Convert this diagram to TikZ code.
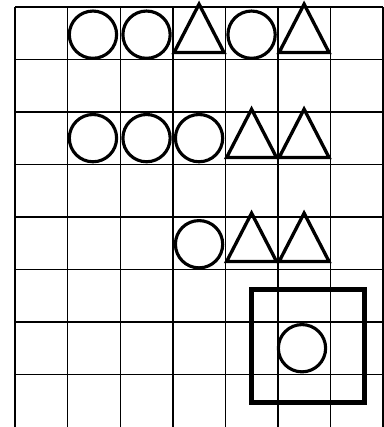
\documentclass[tikz,border=0pt]{standalone}
\usetikzlibrary{shapes.geometric}

\begin{document}
\begin{tikzpicture}[
    cell/.style={draw, line width=0.8pt},
    ring/.style={circle, draw, line width=1.7pt, minimum size=0.9cm, inner sep=0pt},
    tri/.style={isosceles triangle, isosceles triangle stretches, shape border rotate=90,
                draw, line width=1.8pt, minimum width=0.95cm, minimum height=0.92cm,
                inner sep=0pt, anchor=south},
    frame/.style={rectangle, draw, line width=2.6pt, minimum width=2.15cm, minimum height=2.15cm}
]
\useasboundingbox (-0.29,0.13) rectangle (7.02,-8.0);

% grid
\foreach \x in {0,...,7} \draw[cell] (\x,0) -- (\x,-8);
\foreach \y in {0,...,7} \draw[cell] (0,-\y) -- (7,-\y);

% first row
\node[ring] (a2) at (1.48,-0.53) {};
\node[ring] (a3) at (2.5,-0.53) {};
\node[tri]  (a4) at (3.5,-0.9) {};
\node[ring] (a5) at (4.5,-0.53) {};
\node[tri]  (a6) at (5.5,-0.9) {};

% third row
\node[ring] (b2) at (1.48,-2.5) {};
\node[ring] (b3) at (2.5,-2.5) {};
\node[ring] (b4) at (3.5,-2.5) {};
\node[tri]  (b5) at (4.5,-2.9) {};
\node[tri]  (b6) at (5.5,-2.9) {};

% fifth row
\node[ring] (c4) at (3.5,-4.52) {};
\node[tri]  (c5) at (4.5,-4.88) {};
\node[tri]  (c6) at (5.5,-4.88) {};

% boxed circle
\node[frame] (box) at (5.58,-6.46) {};
\node[ring]  (d6) at (5.46,-6.5) {};
\end{tikzpicture}
\end{document}
